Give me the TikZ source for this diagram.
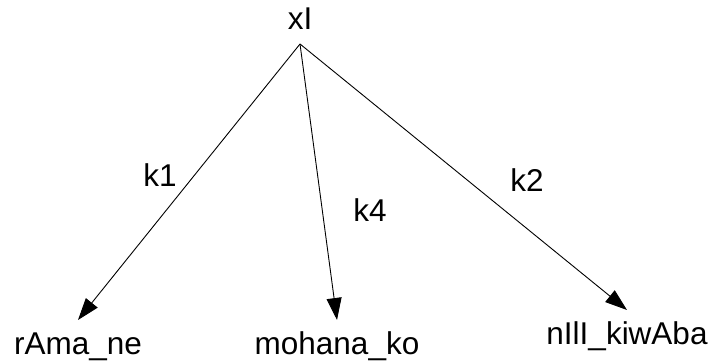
\documentclass[tikz,border=0pt]{standalone}
\usepackage{fontspec}
\setmainfont{Liberation Sans}
\usepackage{tikz}
\usetikzlibrary{arrows.meta,positioning}

\begin{document}
\begin{tikzpicture}[
  x=1pt, y=1pt,
  every node/.style={font=\fontsize{31.5}{36}\selectfont},
  word/.style={text height=23pt, text depth=6pt, inner sep=1pt, anchor=base},
  head/.style={word, outer sep=7pt},
  leaf/.style={word, outer sep=11pt},
  rel/.style={inner sep=1pt},
  arrow/.style={-{Triangle[length=22pt,width=15pt]}, line width=0.9pt, black},
]
\useasboundingbox (0,0) rectangle (717,363);

% Head word
\node[head] (xi) at (300,333) {xI};

% Dependents
\node[leaf] (rama) at (78,8) {rAma\_ne};
\node[leaf] (mohana) at (337,8) {mohana\_ko};
\node[leaf] (kitab) at (627,18) {nIlI\_kiwAba};

% Relation labels
\node[rel] (k1) at (160,188) {k1};
\node[rel] (k4) at (370,153) {k4};
\node[rel] (k2) at (527,183) {k2};

% Arrows
\draw[arrow] (xi.south) -- (rama.north);
\draw[arrow] (xi.south) -- (mohana.north);
\draw[arrow] (xi.south) -- (kitab.north);
\end{tikzpicture}
\end{document}
